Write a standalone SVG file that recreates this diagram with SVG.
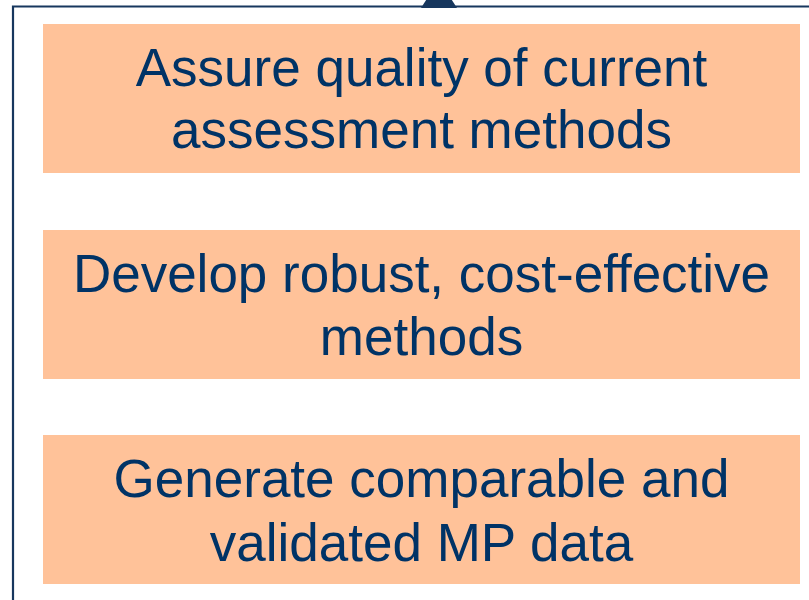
<svg xmlns="http://www.w3.org/2000/svg" width="809" height="600" viewBox="0 0 809 600">
  <style>
    .box { fill: #FFC299; }
    .lbl { font-family: "Liberation Sans", Arial, sans-serif; font-size: 53px; fill: #003366; text-anchor: middle; }
    .frame { fill: none; stroke: #17375E; stroke-width: 2.2; }
  </style>
  <rect width="809" height="600" fill="#FFFFFF"/>
  <g id="connectors">
    <polyline class="frame" points="13,600 13,6.5 809,6.5"/>
    <polygon points="421,8 457,8 439,-20" fill="#17375E"/>
  </g>
  <g id="node1">
    <rect class="box" x="43" y="24" width="757" height="149"/>
    <text class="lbl" x="421.5" y="86">Assure quality of current</text>
    <text class="lbl" x="421.5" y="148">assessment methods</text>
  </g>
  <g id="node2">
    <rect class="box" x="43" y="230" width="757" height="149"/>
    <text class="lbl" x="421.5" y="292">Develop robust, cost-effective</text>
    <text class="lbl" x="421.5" y="355">methods</text>
  </g>
  <g id="node3">
    <rect class="box" x="43" y="435" width="757" height="149"/>
    <text class="lbl" x="421.5" y="497">Generate comparable and</text>
    <text class="lbl" x="421.5" y="561">validated MP data</text>
  </g>
</svg>
